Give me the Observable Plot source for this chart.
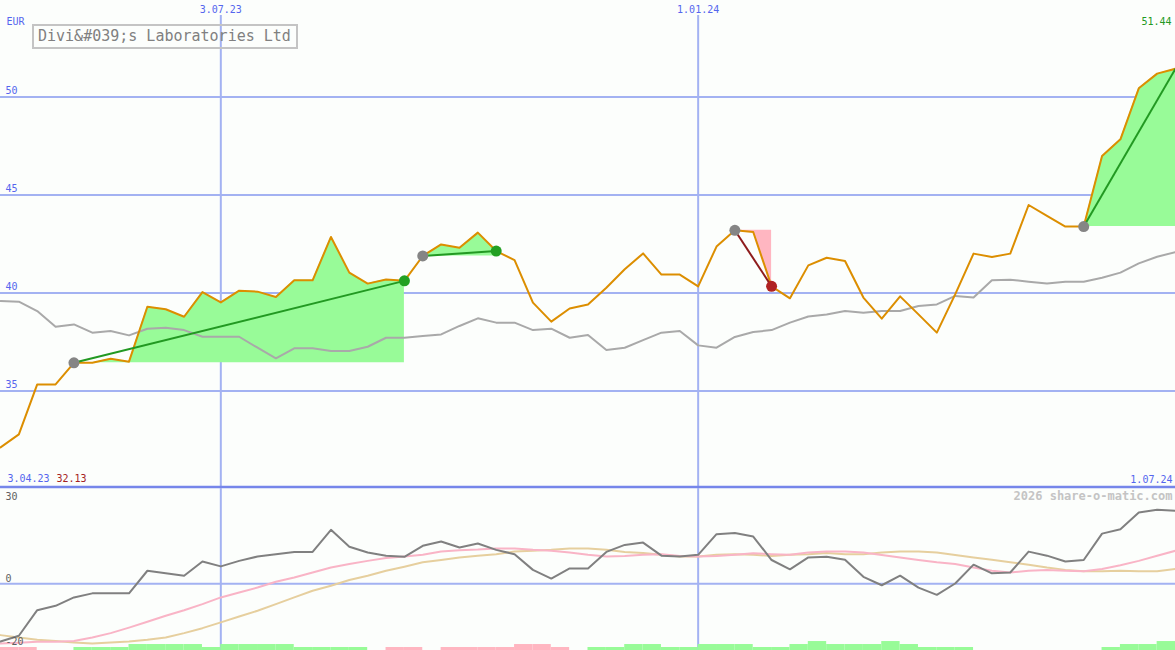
<!DOCTYPE html>
<html>
<head>
<meta charset="utf-8">
<script src="https://cdn.jsdelivr.net/npm/d3@7"></script>
<script src="https://cdn.jsdelivr.net/npm/@observablehq/plot@0.6"></script>
<style>
  html, body { margin: 0; padding: 0; background: #fcfefc; }
  #wrap { position: relative; width: 1175px; height: 650px; background: #fcfefc; overflow: hidden; }
  #wrap svg { display: block; }
  #title { position: absolute; left: 32px; top: 24px; width: 258px; height: 21px; border: 2px solid #c4c4c4;
           font: 15px "DejaVu Sans Mono", monospace; color: #808080; line-height: 21px; padding-left: 4px; white-space: pre; }
</style>
</head>
<body>
<div id="wrap"><div id="topPanel"></div><div id="bottomPanel"></div><div id="title"></div></div>
<script>
// ---- data (weekly closes, EUR) ----
const startDate = "2023-04-10";
const price = [32.13, 32.79, 35.34, 35.34, 36.44, 36.44, 36.65, 36.50, 39.30, 39.17,
  38.79, 40.05, 39.52, 40.12, 40.07, 39.80, 40.65, 40.65, 42.86, 41.04,
  40.48, 40.69, 40.62, 41.89, 42.48, 42.31, 43.08, 42.14, 41.68, 39.51,
  38.54, 39.21, 39.41, 40.27, 41.21, 42.02, 40.94, 40.94, 40.34, 42.37,
  43.20, 43.11, 40.34, 39.73, 41.41, 41.80, 41.63, 39.77, 38.69, 39.83,
  38.91, 37.98, 39.93, 42.01, 41.84, 42.01, 44.49, 43.93, 43.39, 43.39,
  46.99, 47.84, 50.44, 51.19, 51.44];
const average = [39.59, 39.56, 39.08, 38.28, 38.40, 37.98, 38.06, 37.84, 38.18, 38.23,
  38.11, 37.77, 37.77, 37.77, 37.21, 36.67, 37.18, 37.18, 37.04, 37.04,
  37.26, 37.72, 37.72, 37.81, 37.89, 38.32, 38.71, 38.49, 38.49, 38.11,
  38.18, 37.72, 37.86, 37.09, 37.21, 37.60, 37.98, 38.06, 37.33, 37.21,
  37.76, 38.01, 38.11, 38.49, 38.80, 38.91, 39.08, 39.00, 39.08, 39.08,
  39.34, 39.42, 39.85, 39.77, 40.65, 40.68, 40.58, 40.48, 40.58, 40.58,
  40.78, 41.04, 41.51, 41.85, 42.09];
const momentum = [-19.9, -17.9, -9.1, -7.6, -4.7, -3.3, -3.3, -3.3, 4.5, 3.6,
  2.8, 7.7, 6.0, 7.9, 9.4, 10.2, 11.0, 11.0, 18.6, 12.8,
  10.8, 9.7, 9.3, 13.1, 14.6, 12.5, 13.9, 11.7, 10.2, 4.8,
  1.8, 5.3, 5.3, 11.0, 13.4, 14.2, 9.7, 9.4, 10.0, 17.1,
  17.5, 16.3, 8.2, 5.0, 9.1, 9.3, 8.3, 2.4, -0.5, 2.8,
  -1.3, -3.8, 0.1, 6.6, 3.6, 3.9, 11.1, 9.7, 7.7, 8.2,
  17.3, 18.8, 24.6, 25.5, 25.2];
const signalFast = [-20.6, -20.3, -20.0, -20.0, -19.7, -18.5, -17.0, -15.1, -13.1, -11.0,
  -9.1, -7.0, -4.7, -3.0, -1.3, 0.7, 2.2, 3.9, 5.6, 6.8,
  7.9, 8.9, 9.4, 10.0, 11.1, 11.6, 11.8, 12.2, 12.2, 11.7,
  11.4, 10.8, 10.0, 9.4, 9.6, 10.0, 10.2, 9.6, 9.4, 9.6,
  10.0, 10.5, 10.2, 10.0, 10.8, 11.1, 11.1, 10.8, 9.9, 9.1,
  8.2, 7.4, 6.8, 5.6, 4.5, 3.9, 4.5, 4.8, 4.5, 4.3,
  5.1, 6.4, 7.9, 9.7, 11.4];
const signalSlow = [-17.7, -18.5, -19.3, -19.7, -20.2, -20.6, -20.2, -19.9, -19.3, -18.5,
  -17.0, -15.3, -13.3, -11.3, -9.3, -7.0, -4.7, -2.4, -0.7, 1.3,
  2.8, 4.5, 5.9, 7.4, 8.2, 9.1, 9.7, 10.2, 11.1, 11.4,
  11.7, 12.2, 12.2, 11.7, 11.0, 10.6, 10.0, 9.4, 9.4, 10.0,
  10.2, 10.0, 9.6, 10.0, 10.2, 10.6, 10.2, 10.2, 10.8, 11.1,
  11.1, 10.8, 9.9, 9.1, 8.3, 7.4, 6.6, 5.6, 4.8, 4.3,
  4.3, 4.5, 4.3, 4.3, 5.1];
// strength strip per week interval (+ green, - pink)
const strength = [-1, -1, 0, 0, 1, 1, 1, 2, 2, 2,
  2, 1, 2, 2, 2, 2, 1, 1, 1, 1,
  0, -1, -1, 0, -1, -1, -1, -1, -2, -2,
  -1, 0, 1, 1, 2, 2, 1, 1, 2, 2,
  2, 1, 1, 2, 3, 2, 2, 2, 3, 2,
  1, 1, 1, 0, 0, 0, 0, 0, 0, 0,
  1, 2, 2, 3];
const tradeStart = ["2023-05-08", "2023-09-18", "2024-01-15", "2024-05-27"];
const tradeEnd   = ["2023-09-11", "2023-10-16", "2024-01-29", "2024-07-01"];
const tradeClosed = [true, true, true, false];
const dateTicks = ["2023-07-03", "2024-01-01"];
const dateTickLabels = ["3.07.23", "1.01.24"];
const priceTicks = [35, 40, 45, 50];
const oscTicks = [30, 0, -20];
const chartTitle = "Divi&#039;s Laboratories Ltd";
const currency = "EUR";
const firstLabel = "3.04.23", firstValue = "32.13", lastLabel = "1.07.24", lastValue = "51.44";
const credit = "2026 share-o-matic.com";

// ---- build tables ----
const parse = d3.utcParse("%Y-%m-%d");
const t0 = parse(startDate);
const dates = price.map((_, i) => d3.utcDay.offset(t0, 7 * i));
const rows = dates.map((date, i) => ({date, price: price[i], average: average[i], momentum: momentum[i], fast: signalFast[i], slow: signalSlow[i]}));
const idx = s => dates.findIndex(d => +d === +parse(s));
const trades = tradeStart.map((s, k) => {
  const a = idx(s), b = idx(tradeEnd[k]);
  return {id: k, a, b, d1: dates[a], d2: dates[b], p1: price[a], p2: price[b], win: price[b] >= price[a], closed: tradeClosed[k]};
});
const areaRows = trades.flatMap(t => d3.range(t.a, t.b + 1).map(i => ({trade: t.id, win: t.win, date: dates[i], price: price[i], base: t.p1})));
const ticks = dateTicks.map((s, i) => ({date: parse(s), label: dateTickLabels[i]}));
const bars = strength.map((v, k) => ({x1: dates[k], x2: dates[k + 1], v}));

const W = 1175;
const blue = "#a3b2f2", labelBlue = "#5566ee", mono = "DejaVu Sans Mono";
const xScale = {type: "utc", domain: [dates[0], dates[dates.length - 1]], range: [0, W]};

// ---- top panel ----
const topY = [30.03, 54.92];
const topChart = Plot.plot({
  width: W, height: 488, margin: 0,
  style: {background: "transparent", overflow: "visible"},
  x: {...xScale, axis: null},
  y: {domain: topY, range: [488, 0], axis: null},
  marks: [
    Plot.ruleY(priceTicks, {stroke: blue, strokeWidth: 2}),
    Plot.ruleX(ticks, {x: "date", stroke: blue, strokeWidth: 2, insetTop: 15}),
    Plot.areaY(areaRows.filter(d => d.win), {x: "date", y1: "base", y2: "price", z: "trade", fill: "#98fb98", curve: "linear"}),
    Plot.areaY(areaRows.filter(d => !d.win), {x: "date", y1: "base", y2: "price", z: "trade", fill: "#ffb6c1", curve: "linear"}),
    Plot.line(rows, {x: "date", y: "average", stroke: "#a9a9a9", strokeWidth: 2}),
    Plot.line(rows, {x: "date", y: "price", stroke: "#dc8e00", strokeWidth: 2}),
    Plot.link(trades.filter(t => t.win), {x1: "d1", y1: "p1", x2: "d2", y2: "p2", stroke: "#229922", strokeWidth: 2}),
    Plot.link(trades.filter(t => !t.win), {x1: "d1", y1: "p1", x2: "d2", y2: "p2", stroke: "#8e1c1c", strokeWidth: 2}),
    Plot.dot(trades, {x: "d1", y: "p1", r: 5.5, fill: "#858585"}),
    Plot.dot(trades.filter(t => t.win && t.closed), {x: "d2", y: "p2", r: 5.5, fill: "#22a022"}),
    Plot.dot(trades.filter(t => !t.win && t.closed), {x: "d2", y: "p2", r: 5.5, fill: "#b02222"}),
    Plot.ruleY([topY[0]], {stroke: "#7686ea", strokeWidth: 2.5, dy: -1.5}),
    Plot.text(priceTicks, {y: d => d, text: d => String(d), frameAnchor: "left", dx: 5, dy: -6, textAnchor: "start", fill: labelBlue, fontFamily: mono, fontSize: 10}),
    Plot.text(ticks, {x: "date", text: "label", frameAnchor: "top", lineAnchor: "middle", dy: 9, fill: labelBlue, fontFamily: mono, fontSize: 10}),
    Plot.text([currency], {frameAnchor: "top-left", lineAnchor: "middle", textAnchor: "start", dx: 6, dy: 21, fill: labelBlue, fontFamily: mono, fontSize: 10}),
    Plot.text([lastValue], {frameAnchor: "top-right", lineAnchor: "middle", textAnchor: "end", dx: -4, dy: 21, fill: "#229922", fontFamily: mono, fontSize: 10}),
    Plot.text([firstLabel], {frameAnchor: "bottom-left", lineAnchor: "middle", textAnchor: "start", dx: 7, dy: -10, fill: labelBlue, fontFamily: mono, fontSize: 10}),
    Plot.text([firstValue], {frameAnchor: "bottom-left", lineAnchor: "middle", textAnchor: "start", dx: 56, dy: -10, fill: "#a52222", fontFamily: mono, fontSize: 10}),
    Plot.text([lastLabel], {frameAnchor: "bottom-right", lineAnchor: "middle", textAnchor: "end", dx: -3, dy: -9, fill: labelBlue, fontFamily: mono, fontSize: 10})
  ]
});
document.getElementById("topPanel").appendChild(topChart);

// ---- bottom panel ----
const botY = [-23.0, 32.86];
const unit = 1.03;
const bottomChart = Plot.plot({
  width: W, height: 162, margin: 0,
  style: {background: "transparent", overflow: "visible"},
  x: {...xScale, axis: null},
  y: {domain: botY, range: [162, 0], axis: null},
  marks: [
    Plot.ruleY([0], {stroke: blue, strokeWidth: 2}),
    Plot.ruleX(ticks, {x: "date", stroke: blue, strokeWidth: 2}),
    Plot.line(rows, {x: "date", y: "slow", stroke: "#e6cf9e", strokeWidth: 2}),
    Plot.line(rows, {x: "date", y: "fast", stroke: "#f9b4c6", strokeWidth: 2}),
    Plot.line(rows, {x: "date", y: "momentum", stroke: "#808080", strokeWidth: 2}),
    Plot.rect(bars.filter(d => d.v > 0), {x1: "x1", x2: "x2", y1: botY[0], y2: d => botY[0] + d.v * unit, fill: "#98fb98"}),
    Plot.rect(bars.filter(d => d.v < 0), {x1: "x1", x2: "x2", y1: botY[0], y2: d => botY[0] - d.v * unit, fill: "#ffb6c1"}),
    Plot.text(oscTicks.filter(d => d !== 0), {y: d => d, text: d => String(d), frameAnchor: "left", dx: 5, textAnchor: "start", fill: "#606060", fontFamily: mono, fontSize: 10}),
    Plot.text([0], {y: d => d, text: d => String(d), frameAnchor: "left", dx: 5, dy: -5, textAnchor: "start", fill: "#606060", fontFamily: mono, fontSize: 10}),
    Plot.text([credit], {frameAnchor: "top-right", lineAnchor: "middle", textAnchor: "end", dx: -3, dy: 8, fill: "#c4c4c4", fontFamily: mono, fontSize: 12, fontWeight: "bold"})
  ]
});
document.getElementById("bottomPanel").appendChild(bottomChart);

document.getElementById("title").textContent = chartTitle;
</script>
</body>
</html>
